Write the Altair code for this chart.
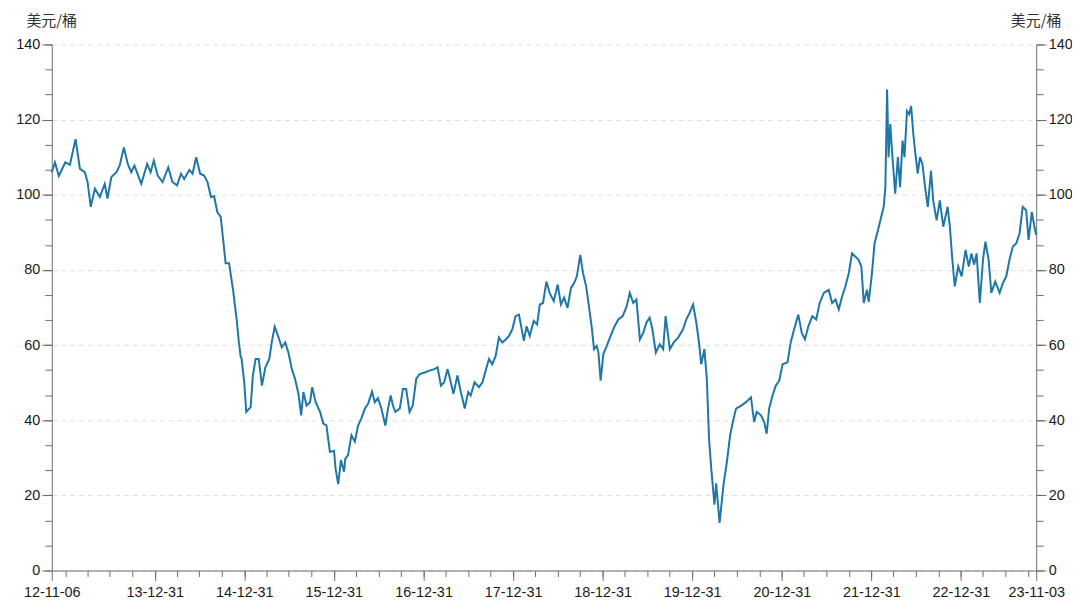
import altair as alt
import pandas as pd

dates = [
    "2012-11-06", "2012-11-19", "2012-12-05", "2012-12-31",
    "2013-01-19", "2013-02-11", "2013-03-01", "2013-03-21", "2013-04-01", "2013-04-14",
    "2013-05-01", "2013-05-21", "2013-06-10", "2013-06-21", "2013-07-07", "2013-07-28",
    "2013-08-10", "2013-08-27", "2013-09-12", "2013-09-26", "2013-10-09", "2013-11-06",
    "2013-11-30", "2013-12-14", "2013-12-27",
    "2014-01-12", "2014-02-01", "2014-02-24", "2014-03-13", "2014-04-01", "2014-04-17",
    "2014-04-30", "2014-05-21", "2014-06-03", "2014-06-18", "2014-07-04", "2014-07-20",
    "2014-08-03", "2014-08-17", "2014-08-30", "2014-09-12", "2014-09-26", "2014-10-16",
    "2014-10-30", "2014-11-16", "2014-11-30", "2014-12-09", "2014-12-16", "2014-12-20",
    "2014-12-31",
    "2015-01-08", "2015-01-26", "2015-02-04", "2015-02-15", "2015-02-28", "2015-03-13",
    "2015-03-27", "2015-04-12", "2015-04-23", "2015-05-04", "2015-05-20", "2015-06-02",
    "2015-06-16", "2015-06-29", "2015-07-13", "2015-07-26", "2015-08-09", "2015-08-20",
    "2015-08-29", "2015-09-11", "2015-09-25", "2015-10-04", "2015-10-18", "2015-11-05",
    "2015-11-18", "2015-12-01", "2015-12-15",
    "2016-01-01", "2016-01-07", "2016-01-18", "2016-01-29", "2016-02-11", "2016-02-16",
    "2016-02-27", "2016-03-12", "2016-03-26", "2016-04-08", "2016-04-21", "2016-05-06",
    "2016-05-19", "2016-06-04", "2016-06-15", "2016-06-28", "2016-07-12", "2016-07-28",
    "2016-08-08", "2016-08-19", "2016-08-28", "2016-09-07", "2016-09-25", "2016-10-08",
    "2016-10-21", "2016-11-04", "2016-11-17", "2016-12-01", "2016-12-15",
    "2017-01-04", "2017-01-24", "2017-02-13", "2017-02-26", "2017-03-12", "2017-03-25",
    "2017-04-08", "2017-04-21", "2017-05-02", "2017-05-18", "2017-06-01", "2017-06-17",
    "2017-07-01", "2017-07-11", "2017-07-27", "2017-08-14", "2017-08-28", "2017-09-10",
    "2017-09-24", "2017-10-07", "2017-10-21", "2017-11-03", "2017-11-17", "2017-12-01",
    "2017-12-14", "2017-12-28",
    "2018-01-10", "2018-01-24", "2018-02-02", "2018-02-13", "2018-02-24", "2018-03-09",
    "2018-03-25", "2018-04-08", "2018-04-19", "2018-05-02", "2018-05-16", "2018-05-29",
    "2018-06-15", "2018-07-01", "2018-07-14", "2018-07-27", "2018-08-10", "2018-08-24",
    "2018-09-06", "2018-09-17", "2018-10-01", "2018-10-12", "2018-10-25", "2018-11-07",
    "2018-11-17", "2018-11-26", "2018-12-07", "2018-12-14", "2018-12-23",
    "2019-01-03", "2019-01-17", "2019-01-30", "2019-02-15", "2019-03-05", "2019-03-23",
    "2019-04-08", "2019-04-21", "2019-05-05", "2019-05-18", "2019-06-01", "2019-06-15",
    "2019-06-28", "2019-07-11", "2019-07-22", "2019-08-05", "2019-08-21", "2019-09-04",
    "2019-09-14", "2019-10-01", "2019-10-17", "2019-11-04", "2019-11-24", "2019-12-07",
    "2019-12-21",
    "2020-01-04", "2020-01-17", "2020-01-28", "2020-02-06", "2020-02-19", "2020-02-29",
    "2020-03-09", "2020-03-18", "2020-03-31", "2020-04-07", "2020-04-21", "2020-05-07",
    "2020-05-21", "2020-06-03", "2020-06-14", "2020-06-27", "2020-07-18", "2020-08-07",
    "2020-08-27", "2020-09-09", "2020-09-19", "2020-10-07", "2020-10-20", "2020-10-30",
    "2020-11-09", "2020-11-23", "2020-12-06", "2020-12-20",
    "2021-01-03", "2021-01-23", "2021-02-05", "2021-02-19", "2021-03-08", "2021-03-22",
    "2021-04-04", "2021-04-18", "2021-05-04", "2021-05-20", "2021-06-03", "2021-06-20",
    "2021-07-10", "2021-07-24", "2021-08-07", "2021-08-20", "2021-09-03", "2021-09-16",
    "2021-09-30", "2021-10-13", "2021-10-27", "2021-11-09", "2021-11-20", "2021-11-30",
    "2021-12-13", "2021-12-20",
    "2022-01-01", "2022-01-13", "2022-01-27", "2022-02-09", "2022-02-19", "2022-02-26",
    "2022-03-05", "2022-03-11", "2022-03-18", "2022-03-27", "2022-04-07", "2022-04-18",
    "2022-04-27", "2022-05-07", "2022-05-15", "2022-05-25", "2022-06-03", "2022-06-11",
    "2022-06-20", "2022-06-27", "2022-07-08", "2022-07-17", "2022-07-27", "2022-08-07",
    "2022-08-18", "2022-08-31", "2022-09-09", "2022-09-23", "2022-10-06", "2022-10-20",
    "2022-11-07", "2022-11-16", "2022-11-25", "2022-12-06", "2022-12-20",
    "2023-01-03", "2023-01-19", "2023-02-01", "2023-02-12", "2023-02-23", "2023-03-05",
    "2023-03-18", "2023-03-31", "2023-04-10", "2023-04-23", "2023-05-04", "2023-05-20",
    "2023-06-07", "2023-06-20", "2023-07-04", "2023-07-17", "2023-07-31", "2023-08-14",
    "2023-08-27", "2023-09-09", "2023-09-23", "2023-10-03", "2023-10-16", "2023-10-27",
    "2023-11-03",
]

prices = [
    106.0, 108.6, 105.0, 108.6,
    108.0, 114.8, 106.9, 106.0, 103.4, 96.8,
    101.6, 99.4, 102.9, 99.0, 104.7, 106.0,
    107.8, 112.6, 108.2, 106.0, 107.8, 102.9,
    108.2, 106.0, 109.1,
    105.1, 103.4, 107.3, 103.4, 102.5, 105.6,
    104.2, 106.6, 105.6, 110.0, 105.6, 105.1,
    103.4, 99.4, 99.6, 95.4, 94.1, 81.8,
    81.8, 74.3, 66.8, 60.7, 57.1, 56.3,
    50.0,
    42.2, 43.5, 51.9, 56.3, 56.3, 49.2,
    54.1, 56.3, 61.1, 64.9, 62.0, 59.4,
    60.7, 58.0, 53.6, 51.0, 47.0, 41.3,
    47.5, 43.9, 44.8, 48.8, 44.8, 42.2,
    39.1, 38.6, 31.6,
    31.8, 27.2, 23.0, 29.4, 26.3, 29.8,
    30.7, 36.0, 34.3, 38.6, 40.4, 43.1,
    44.4, 47.6, 44.8, 45.9, 43.1, 38.6,
    43.1, 46.6, 43.9, 42.2, 43.1, 48.3,
    48.3, 42.2, 43.9, 51.0, 52.3,
    52.7, 53.2, 53.6, 54.1, 49.2, 50.1,
    53.6, 50.1, 47.0, 51.9, 47.5, 43.1,
    47.5, 46.6, 50.1, 48.8, 50.1, 53.2,
    56.3, 54.9, 57.1, 62.0, 60.7, 61.5,
    62.4, 64.2,
    67.7, 68.1, 65.0, 61.1, 65.0, 62.4,
    66.4, 65.5, 70.8, 71.2, 76.9, 73.9,
    71.7, 76.1, 70.8, 72.6, 69.9, 75.2,
    76.5, 78.3, 84.0, 79.2, 75.6, 69.5,
    64.6, 58.9, 59.8, 58.0, 50.5,
    57.6, 59.8, 62.0, 64.6, 66.8, 67.7,
    70.3, 73.9, 71.2, 72.1, 61.5, 63.3,
    66.0, 67.3, 64.2, 58.0, 60.2, 58.9,
    67.7, 58.9, 60.7, 62.0, 64.2, 66.8,
    68.6,
    70.8, 66.0, 60.7, 54.9, 58.9, 51.0,
    35.1, 27.2, 17.5, 23.2, 12.7, 22.8,
    29.0, 36.0, 39.5, 43.1, 43.9, 44.8,
    46.1, 39.5, 42.2, 41.3, 39.5, 36.4,
    43.1, 46.6, 49.2, 50.5,
    54.9, 55.4, 60.7, 64.2, 68.1, 63.3,
    61.5, 65.0, 67.7, 66.8, 71.2, 73.9,
    74.7, 71.2, 72.1, 69.5, 73.0, 75.6,
    79.2, 84.4, 83.5, 82.7, 80.9, 71.2,
    74.7, 71.5,
    78.3, 87.1, 90.6, 94.1, 96.8, 102.0,
    128.0, 110.0, 118.8, 110.0, 100.3, 110.0,
    102.0, 114.4, 110.0, 122.3, 121.4, 123.6,
    116.1, 111.7, 105.6, 110.0, 108.2, 102.0,
    96.8, 106.4, 98.5, 93.2, 98.5, 91.5,
    96.8, 91.5, 83.5, 75.6, 80.9,
    78.3, 85.3, 80.9, 84.4, 81.4, 84.4,
    71.2, 82.7, 87.5, 82.7, 73.9, 76.9,
    73.9, 76.5, 78.3, 82.7, 86.2, 87.1,
    89.7, 96.8, 95.9, 88.0, 95.4, 91.5,
    89.3,
]

major_dates = [
    "2012-11-06", "2013-12-31", "2014-12-31", "2015-12-31", "2016-12-31", "2017-12-31",
    "2018-12-31", "2019-12-31", "2020-12-31", "2021-12-31", "2022-12-31", "2023-11-03",
]
quarter_ends = []
for yr in range(2012, 2024):
    for md in ["03-31", "06-30", "09-30", "12-31"]:
        s = f"{yr}-{md}"
        if "2012-11-06" < s < "2023-11-03":
            quarter_ends.append(s)

y_major = [0, 20, 40, 60, 80, 100, 120, 140]
y_minor = [round(i * 20 / 3, 4) for i in range(22)]
unit_label = "美元/桶"

df = pd.DataFrame({"date": pd.to_datetime(dates), "price": prices})


def dt(s):
    y, m, d = map(int, s.split("-"))
    return alt.DateTime(year=y, month=m, date=d)


FONT = "Liberation Sans"
CJK = "Noto Sans CJK SC"
AX = "#6e6e6e"
LINE = "#1f77a6"

xs = alt.Scale(domain=[dt("2012-11-06"), dt("2023-11-03")])
ys = alt.Scale(domain=[0, 140], nice=False, zero=True)

common = dict(domainColor=AX, tickColor=AX, tickWidth=1, domainWidth=1,
              labelFont=FONT, labelFontSize=14.5, labelColor="#1a1a1a")

x_major_axis = alt.Axis(orient="bottom", values=[dt(s) for s in major_dates],
                        format="%y-%m-%d", title=None, grid=False, tickSize=10,
                        labelPadding=5, labelFlush=False, labelOverlap=False, **common)
x_minor_axis = alt.Axis(orient="bottom", values=[dt(s) for s in quarter_ends],
                        labels=False, title=None, grid=False, domain=False,
                        tickSize=6, tickColor=AX)


def y_major_axis(orient):
    return alt.Axis(orient=orient, values=y_major, title=unit_label, titleAngle=0,
                    titleX=-26, titleY=-19, titleAlign="left",
                    titleBaseline="alphabetic", titleFont=CJK, titleFontSize=15,
                    titleFontWeight="normal", titleColor="#333",
                    grid=(orient == "left"), gridDash=[5, 4], gridColor="#dedede",
                    tickSize=10, labelPadding=2, **common)


def y_minor_axis(orient):
    return alt.Axis(orient=orient, values=y_minor, labels=False, title=None,
                    grid=False, domain=False, tickSize=7, tickColor=AX)


line = alt.Chart(df).mark_line(color=LINE, strokeWidth=2).encode(
    x=alt.X("date:T", scale=xs, axis=x_major_axis),
    y=alt.Y("price:Q", scale=ys, axis=y_major_axis("left")),
)

left_minor = alt.Chart(df).mark_line(opacity=0).encode(
    x=alt.X("date:T", scale=xs, axis=x_minor_axis),
    y=alt.Y("price:Q", scale=ys, axis=y_minor_axis("left")),
)

right_major = alt.Chart(df).mark_line(opacity=0).encode(
    x=alt.X("date:T", scale=xs, axis=None),
    y=alt.Y("price:Q", scale=ys, axis=y_major_axis("right")),
)

right_minor = alt.Chart(df).mark_line(opacity=0).encode(
    x=alt.X("date:T", scale=xs, axis=None),
    y=alt.Y("price:Q", scale=ys, axis=y_minor_axis("right")),
)

chart = (
    alt.layer(left_minor, right_minor, right_major, line)
    .resolve_scale(x="independent", y="independent")
    .properties(
        width=990,
        height=529,
        autosize=alt.AutoSizeParams(type="none"),
        padding={"left": 44, "top": 35, "right": 36, "bottom": 32},
        background="white",
    )
    .configure_view(stroke=None)
)

chart.save("out.html", embed_options={"renderer": "svg", "actions": False})
